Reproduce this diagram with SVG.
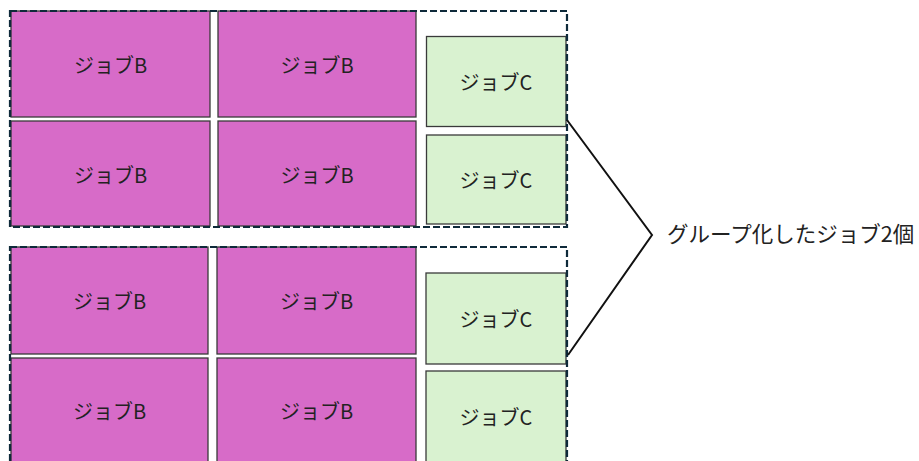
<svg xmlns="http://www.w3.org/2000/svg" width="919" height="461" viewBox="0 0 919 461">
<style>
.grp{fill:none;stroke:#0e2a3a;stroke-width:2.2;stroke-dasharray:7 3}
.b{fill:#d76bc8;stroke:#3a3a3a;stroke-width:1.3}
.c{fill:#d9f2d0;stroke:#3a3a3a;stroke-width:1.3}
.t{font-family:"Noto Sans CJK JP","Noto Sans",sans-serif;font-size:20px;fill:#222;text-anchor:middle;dominant-baseline:central}
.lbl{font-family:"Noto Sans CJK JP","Noto Sans",sans-serif;font-size:21.5px;fill:#222}
.ln{fill:none;stroke:#111;stroke-width:2}
</style>
<rect width="919" height="461" fill="#fff"/>
<g id="b1"><rect class="b" x="11" y="11" width="199" height="106"/><text class="t" x="110.5" y="64">ジョブB</text></g>
<g id="b2"><rect class="b" x="218" y="11" width="198" height="106"/><text class="t" x="317" y="64">ジョブB</text></g>
<g id="b3"><rect class="b" x="11" y="121" width="199" height="105"/><text class="t" x="110.5" y="174">ジョブB</text></g>
<g id="b4"><rect class="b" x="218" y="121" width="198" height="105"/><text class="t" x="317" y="174">ジョブB</text></g>
<g id="c1"><rect class="c" x="426.5" y="36.5" width="139.5" height="90"/><text class="t" x="496" y="81">ジョブC</text></g>
<g id="c2"><rect class="c" x="426.5" y="135" width="139.5" height="89"/><text class="t" x="496" y="179">ジョブC</text></g>
<g id="b5"><rect class="b" x="11" y="247" width="197" height="107"/><text class="t" x="109.5" y="300">ジョブB</text></g>
<g id="b6"><rect class="b" x="217" y="247" width="199" height="107"/><text class="t" x="316.5" y="300">ジョブB</text></g>
<g id="b7"><rect class="b" x="11" y="358" width="197" height="106"/><text class="t" x="109.5" y="410">ジョブB</text></g>
<g id="b8"><rect class="b" x="217" y="358" width="199" height="106"/><text class="t" x="316.5" y="410">ジョブB</text></g>
<g id="c3"><rect class="c" x="426" y="273" width="140" height="91"/><text class="t" x="496" y="318">ジョブC</text></g>
<g id="c4"><rect class="c" x="426" y="371" width="140" height="92"/><text class="t" x="496" y="416">ジョブC</text></g>
<g id="group1"><rect class="grp" x="10" y="11" width="557" height="216"/></g>
<g id="group2"><rect class="grp" x="10" y="247" width="557" height="220"/></g>
<g id="connectors"><polyline class="ln" points="567,120 652,235 568,355"/></g>
<g id="label"><text class="lbl" x="667" y="242">グループ化したジョブ2個</text></g>
</svg>
